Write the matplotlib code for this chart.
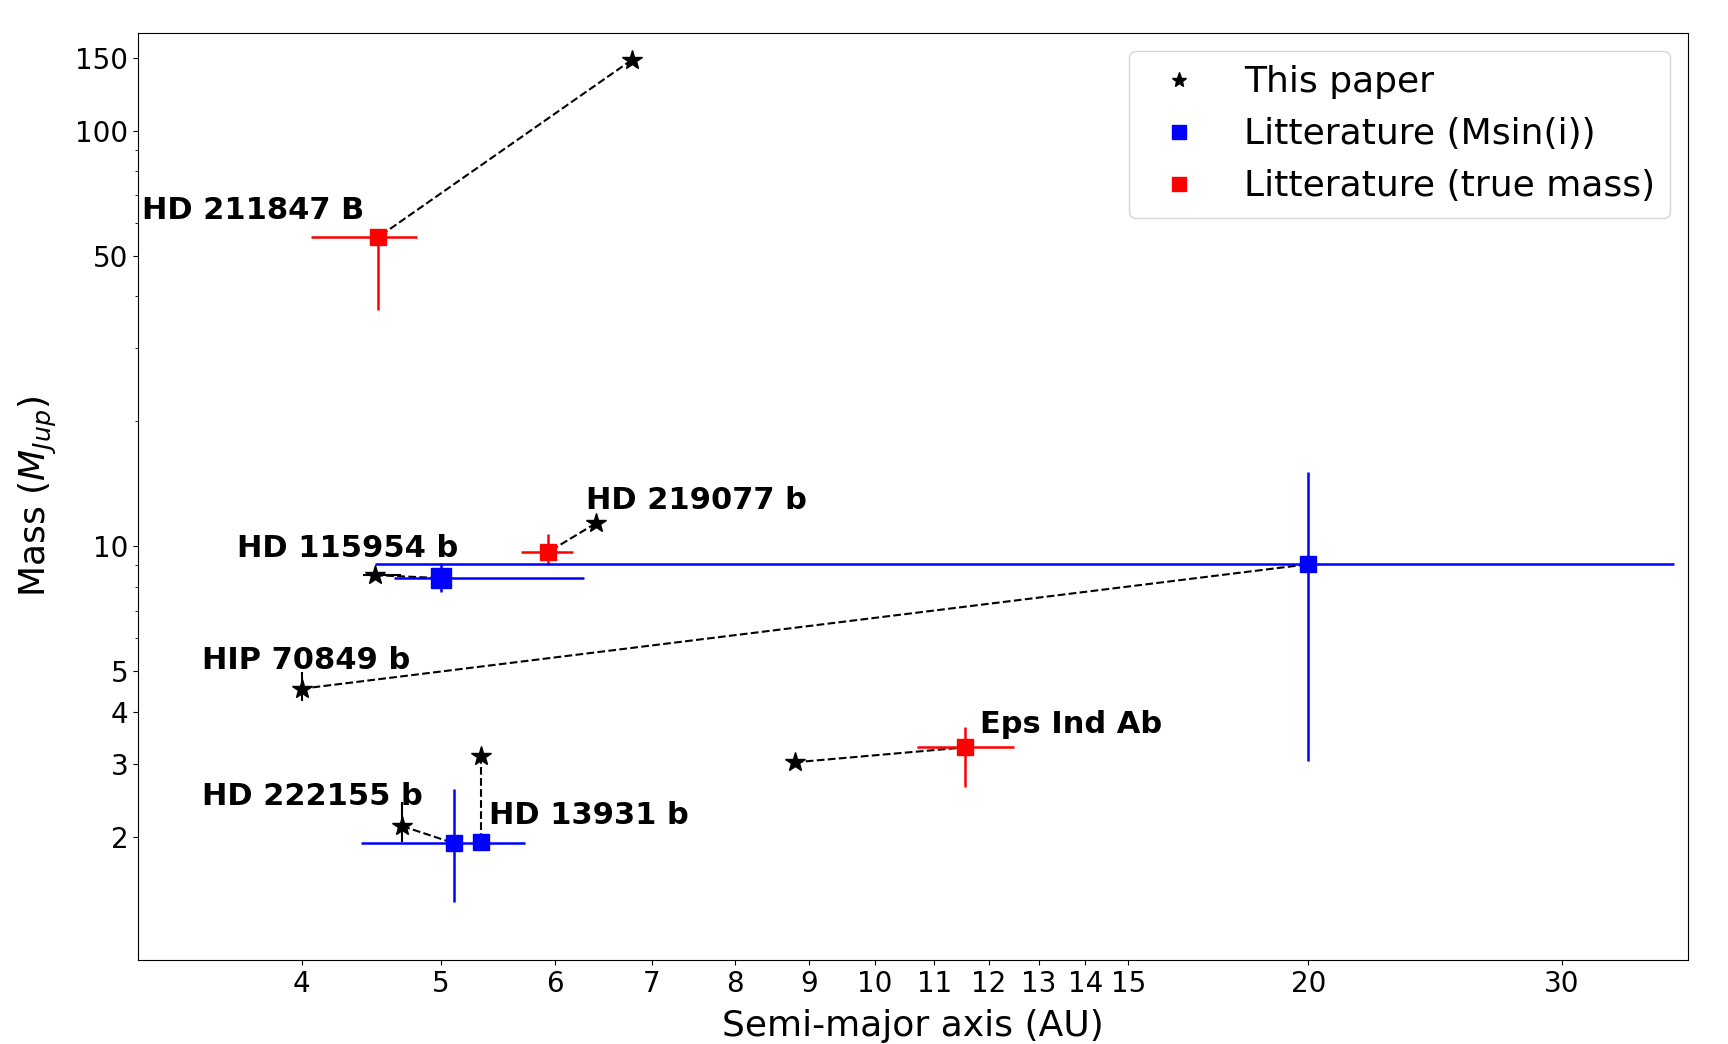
import numpy as np
import matplotlib
matplotlib.use("Agg")
import matplotlib.pyplot as plt
from matplotlib.lines import Line2D

# planets: name, this paper (a, M) and literature (a, M) with errors
names = ["HD 211847 B", "HD 219077 b", "HD 115954 b", "HIP 70849 b",
         "HD 222155 b", "HD 13931 b", "Eps Ind Ab"]

a_ours = [6.78, 6.40, 4.50, 4.00, 4.70, 5.33, 8.80]
m_ours = [148.0, 11.35, 8.52, 4.54, 2.12, 3.13, 3.02]
a_ours_lo = [0.0, 0.0, 0.09, 0.0, 0.0, 0.0, 0.0]
a_ours_hi = [0.0, 0.0, 0.19, 0.0, 0.0, 0.0, 0.0]
m_ours_lo = [0.0, 0.0, 0.0, 0.29, 0.18, 0.0, 0.0]
m_ours_hi = [0.0, 0.0, 0.0, 0.43, 0.30, 0.0, 0.0]

a_lit = [4.52, 5.93, 5.00, 20.0, 5.10, 5.33, 11.55]
m_lit = [55.4, 9.67, 8.38, 9.05, 1.93, 1.94, 3.28]
a_lit_lo = [0.46, 0.25, 0.36, 15.5, 0.70, 0.0, 0.85]
a_lit_hi = [0.29, 0.24, 1.28, 15.9, 0.62, 0.0, 0.95]
m_lit_lo = [18.4, 0.67, 0.62, 6.0, 0.54, 0.0, 0.65]
m_lit_hi = [1.9, 1.01, 0.72, 6.0, 0.67, 0.0, 0.40]
true_mass = [True, True, False, False, False, False, True]

# label anchor points (data coords)
lab_a = [3.10, 6.30, 3.61, 3.41, 3.41, 5.40, 11.83]
lab_m = [61.2, 12.3, 9.41, 5.07, 2.39, 2.14, 3.56]

xticks = [4, 5, 6, 7, 8, 9, 10, 11, 12, 13, 14, 15, 20, 30]
yticks = [2, 3, 4, 5, 10, 50, 100, 150]

sq_size = [12, 12, 14, 12, 12, 12, 12]

fig = plt.figure(figsize=(17.28, 10.44), dpi=100)
ax = fig.add_axes([0.0799, 0.0805, 0.897, 0.888])

for i in range(len(names)):
    col = 'red' if true_mass[i] else 'blue'
    ax.plot([a_ours[i], a_lit[i]], [m_ours[i], m_lit[i]], 'k--', lw=1.5, zorder=1)
    ax.errorbar(a_lit[i], m_lit[i],
                xerr=[[a_lit_lo[i]], [a_lit_hi[i]]],
                yerr=[[m_lit_lo[i]], [m_lit_hi[i]]],
                fmt='s', color=col, ms=sq_size[i], elinewidth=1.8, capsize=0, zorder=2)
    ax.errorbar(a_ours[i], m_ours[i],
                xerr=[[a_ours_lo[i]], [a_ours_hi[i]]],
                yerr=[[m_ours_lo[i]], [m_ours_hi[i]]],
                fmt='*', color='k', ms=15, elinewidth=1.5, capsize=0, zorder=3)
    ax.text(lab_a[i], lab_m[i], names[i], fontsize=22, fontweight='bold',
            ha='left', va='baseline')

ax.set_xscale('log')
ax.set_yscale('log')
ax.set_xlim(3.08, 36.7)
ax.set_ylim(1.01, 172)
ax.set_xticks(xticks, [str(t) for t in xticks])
ax.set_yticks(yticks, [str(t) for t in yticks])
ax.xaxis.set_minor_formatter(matplotlib.ticker.NullFormatter())
ax.yaxis.set_minor_formatter(matplotlib.ticker.NullFormatter())
ax.tick_params(labelsize=20)

ax.set_xlabel('Semi-major axis (AU)', fontsize=26, labelpad=8)
ax.set_ylabel('Mass ($M_{Jup}$)', fontsize=26, labelpad=12)

handles = [Line2D([], [], ls='none', marker='*', color='k', ms=11, label='This paper'),
           Line2D([], [], ls='none', marker='s', color='blue', ms=10, label='Litterature (Msin(i))'),
           Line2D([], [], ls='none', marker='s', color='red', ms=10, label='Litterature (true mass)')]
ax.legend(handles=handles, loc='upper right', fontsize=26)

plt.savefig('out.png', dpi=100)
